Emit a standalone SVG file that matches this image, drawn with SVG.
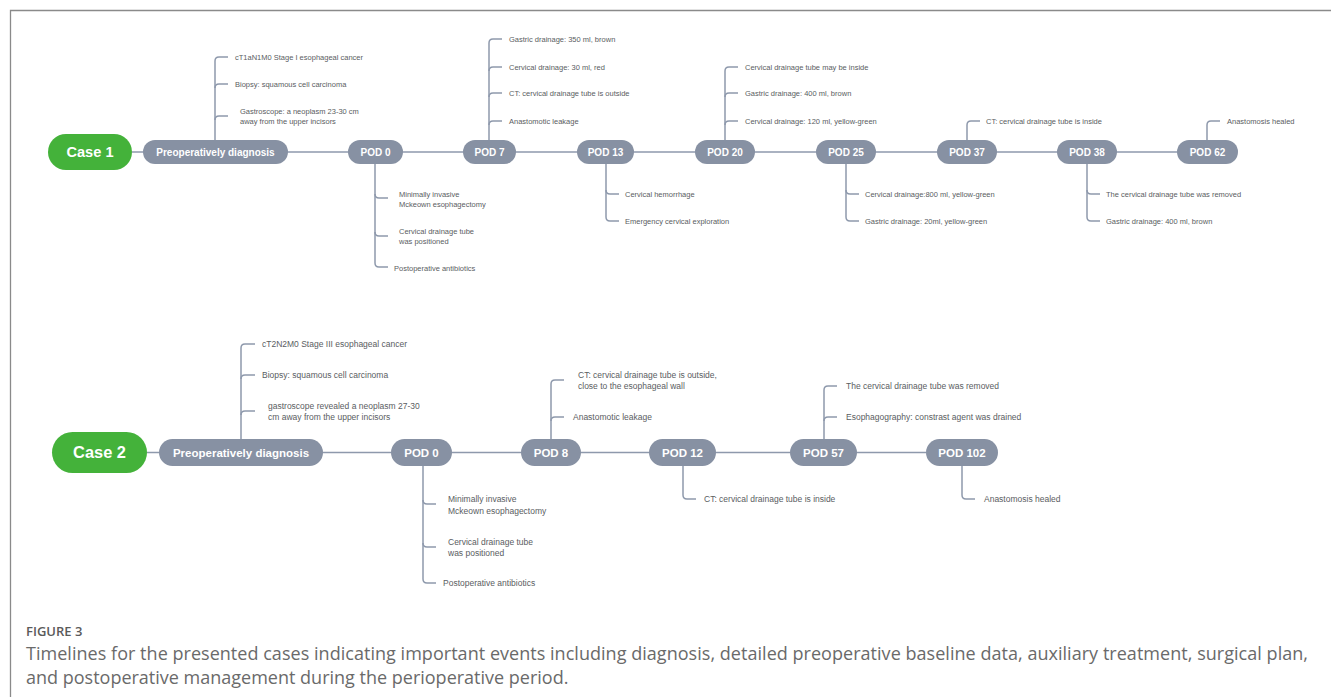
<svg xmlns="http://www.w3.org/2000/svg" width="1331" height="697" viewBox="0 0 1331 697">
<style>
.bg{fill:#ffffff}
.frame{stroke:#8a8a8a;stroke-width:1.3;fill:none}
.case{fill:#44b23a}
.node{fill:#8791a3}
.caseT{font-family:"Liberation Sans",Arial,sans-serif;font-weight:bold;fill:#ffffff;text-anchor:middle}
.nodeT{font-family:"Liberation Sans",Arial,sans-serif;font-weight:bold;fill:#ffffff;text-anchor:middle}
.c1n{font-size:10px}
.c2n{font-size:11.5px}
.ln{stroke:#8e99ac;stroke-width:1.5;fill:none}
.t1{font-family:"Liberation Sans",Arial,sans-serif;font-size:7.5px;fill:#5a5d62}
.t2{font-family:"Liberation Sans",Arial,sans-serif;font-size:8.5px;fill:#5a5d62}
.figl{font-family:"Open Sans","Liberation Sans",sans-serif;font-size:13px;font-weight:600;fill:#5a5a5a}
.cap{font-family:"Open Sans","Liberation Sans",sans-serif;font-size:18px;fill:#6a6a6a}
</style>
<rect class="bg" x="0" y="0" width="1331" height="697"/>
<path class="frame" d="M10.5,697 V10.5 H1331"/>

<g id="connectors">
  <line class="ln" x1="132" y1="152" x2="1177" y2="152"/>
  <path class="ln" d="M215,140 V61 Q215,57 219,57 H228"/>
  <path class="ln" d="M215,88 Q215,84 219,84 H228"/>
  <path class="ln" d="M215,120 Q215,116 219,116 H228"/>
  <path class="ln" d="M375,164 V263 Q375,267 379,267 H388"/>
  <path class="ln" d="M375,194 Q375,198 379,198 H388"/>
  <path class="ln" d="M375,232 Q375,236 379,236 H388"/>
  <path class="ln" d="M489,140 V43 Q489,39 493,39 H502"/>
  <path class="ln" d="M489,71 Q489,67 493,67 H502"/>
  <path class="ln" d="M489,97 Q489,93 493,93 H502"/>
  <path class="ln" d="M489,125 Q489,121 493,121 H502"/>
  <path class="ln" d="M606,164 V217 Q606,221 610,221 H619"/>
  <path class="ln" d="M606,190 Q606,194 610,194 H619"/>
  <path class="ln" d="M725,140 V71 Q725,67 729,67 H738"/>
  <path class="ln" d="M725,97 Q725,93 729,93 H738"/>
  <path class="ln" d="M725,125 Q725,121 729,121 H738"/>
  <path class="ln" d="M846,164 V217 Q846,221 850,221 H859"/>
  <path class="ln" d="M846,190 Q846,194 850,194 H859"/>
  <path class="ln" d="M967,140 V125 Q967,121 971,121 H980"/>
  <path class="ln" d="M1087,164 V217 Q1087,221 1091,221 H1100"/>
  <path class="ln" d="M1087,190 Q1087,194 1091,194 H1100"/>
  <path class="ln" d="M1207,140 V125 Q1207,121 1211,121 H1220"/>

  <line class="ln" x1="147" y1="452.5" x2="926" y2="452.5"/>
  <path class="ln" d="M241,439 V348 Q241,344 245,344 H255"/>
  <path class="ln" d="M241,379 Q241,375 245,375 H255"/>
  <path class="ln" d="M241,415 Q241,411 245,411 H255"/>
  <path class="ln" d="M423,466 V579 Q423,583 427,583 H436"/>
  <path class="ln" d="M423,500 Q423,504 427,504 H436"/>
  <path class="ln" d="M423,543 Q423,547 427,547 H436"/>
  <path class="ln" d="M551,439 V384 Q551,380 555,380 H564"/>
  <path class="ln" d="M551,421 Q551,417 555,417 H564"/>
  <path class="ln" d="M683,466 V495 Q683,499 687,499 H696"/>
  <path class="ln" d="M824,439 V390 Q824,386 828,386 H837"/>
  <path class="ln" d="M824,421 Q824,417 828,417 H837"/>
  <path class="ln" d="M962,466 V495 Q962,499 966,499 H975"/>
</g>

<g id="case1">
  <rect class="case" x="48" y="134" width="84" height="36" rx="18"/>
  <text class="caseT" x="90" y="157.3" font-size="14.6">Case 1</text>
</g>
<g id="c1-preop">
  <rect class="node" x="143" y="140" width="145" height="24" rx="12"/>
  <text class="nodeT c1n" x="215.5" y="155.5">Preoperatively diagnosis</text>
  <text class="t1" x="235" y="59.7">cT1aN1M0 Stage I esophageal cancer</text>
  <text class="t1" x="235" y="86.7">Biopsy: squamous cell carcinoma</text>
  <text class="t1" x="240" y="113.7">Gastroscope: a neoplasm 23-30 cm</text>
  <text class="t1" x="240" y="123.7">away from the upper incisors</text>
</g>
<g id="c1-pod0">
  <rect class="node" x="348" y="140" width="55" height="24" rx="12"/>
  <text class="nodeT c1n" x="375.5" y="155.5">POD 0</text>
  <text class="t1" x="399" y="196.7">Minimally invasive</text>
  <text class="t1" x="399" y="206.7">Mckeown esophagectomy</text>
  <text class="t1" x="399" y="233.7">Cervical drainage tube</text>
  <text class="t1" x="399" y="243.7">was positioned</text>
  <text class="t1" x="394" y="270.7">Postoperative antibiotics</text>
</g>
<g id="c1-pod7">
  <rect class="node" x="463" y="140" width="53" height="24" rx="12"/>
  <text class="nodeT c1n" x="489.5" y="155.5">POD 7</text>
  <text class="t1" x="509" y="41.7">Gastric drainage: 350 ml, brown</text>
  <text class="t1" x="509" y="69.7">Cervical drainage: 30 ml, red</text>
  <text class="t1" x="509" y="95.7">CT: cervical drainage tube is outside</text>
  <text class="t1" x="509" y="123.7">Anastomotic leakage</text>
</g>
<g id="c1-pod13">
  <rect class="node" x="577" y="140" width="57" height="24" rx="12"/>
  <text class="nodeT c1n" x="605.5" y="155.5">POD 13</text>
  <text class="t1" x="625" y="196.7">Cervical hemorrhage</text>
  <text class="t1" x="625" y="223.7">Emergency cervical exploration</text>
</g>
<g id="c1-pod20">
  <rect class="node" x="695" y="140" width="60" height="24" rx="12"/>
  <text class="nodeT c1n" x="725" y="155.5">POD 20</text>
  <text class="t1" x="745" y="69.7">Cervical drainage tube may be inside</text>
  <text class="t1" x="745" y="95.7">Gastric drainage: 400 ml, brown</text>
  <text class="t1" x="745" y="123.7">Cervical drainage: 120 ml, yellow-green</text>
</g>
<g id="c1-pod25">
  <rect class="node" x="816" y="140" width="60" height="24" rx="12"/>
  <text class="nodeT c1n" x="846" y="155.5">POD 25</text>
  <text class="t1" x="865" y="196.7">Cervical drainage:800 ml, yellow-green</text>
  <text class="t1" x="865" y="223.7">Gastric drainage: 20ml, yellow-green</text>
</g>
<g id="c1-pod37">
  <rect class="node" x="937" y="140" width="60" height="24" rx="12"/>
  <text class="nodeT c1n" x="967" y="155.5">POD 37</text>
  <text class="t1" x="986" y="123.7">CT: cervical drainage tube is inside</text>
</g>
<g id="c1-pod38">
  <rect class="node" x="1057" y="140" width="60" height="24" rx="12"/>
  <text class="nodeT c1n" x="1087" y="155.5">POD 38</text>
  <text class="t1" x="1106" y="196.7">The cervical drainage tube was removed</text>
  <text class="t1" x="1106" y="223.7">Gastric drainage: 400 ml, brown</text>
</g>
<g id="c1-pod62">
  <rect class="node" x="1177" y="140" width="61" height="24" rx="12"/>
  <text class="nodeT c1n" x="1207.5" y="155.5">POD 62</text>
  <text class="t1" x="1227" y="123.7">Anastomosis healed</text>
</g>

<g id="case2">
  <rect class="case" x="52" y="432" width="95" height="41" rx="20.5"/>
  <text class="caseT" x="99.5" y="458.4" font-size="16.4">Case 2</text>
</g>
<g id="c2-preop">
  <rect class="node" x="159" y="439" width="164" height="27" rx="13.5"/>
  <text class="nodeT c2n" x="241" y="456.6">Preoperatively diagnosis</text>
  <text class="t2" x="262" y="347">cT2N2M0 Stage III esophageal cancer</text>
  <text class="t2" x="262" y="378">Biopsy: squamous cell carcinoma</text>
  <text class="t2" x="268" y="409">gastroscope revealed a neoplasm 27-30</text>
  <text class="t2" x="268" y="420">cm away from the upper incisors</text>
</g>
<g id="c2-pod0">
  <rect class="node" x="391" y="439" width="61" height="27" rx="13.5"/>
  <text class="nodeT c2n" x="421.5" y="456.6">POD 0</text>
  <text class="t2" x="448" y="502">Minimally invasive</text>
  <text class="t2" x="448" y="514">Mckeown esophagectomy</text>
  <text class="t2" x="448" y="545">Cervical drainage tube</text>
  <text class="t2" x="448" y="556">was positioned</text>
  <text class="t2" x="443" y="586">Postoperative antibiotics</text>
</g>
<g id="c2-pod8">
  <rect class="node" x="521" y="439" width="60" height="27" rx="13.5"/>
  <text class="nodeT c2n" x="551" y="456.6">POD 8</text>
  <text class="t2" x="578" y="378">CT: cervical drainage tube is outside,</text>
  <text class="t2" x="578" y="389">close to the esophageal wall</text>
  <text class="t2" x="573" y="420">Anastomotic leakage</text>
</g>
<g id="c2-pod12">
  <rect class="node" x="649" y="439" width="67" height="27" rx="13.5"/>
  <text class="nodeT c2n" x="682.5" y="456.6">POD 12</text>
  <text class="t2" x="704" y="502">CT: cervical drainage tube is inside</text>
</g>
<g id="c2-pod57">
  <rect class="node" x="790" y="439" width="67" height="27" rx="13.5"/>
  <text class="nodeT c2n" x="823.5" y="456.6">POD 57</text>
  <text class="t2" x="846" y="389">The cervical drainage tube was removed</text>
  <text class="t2" x="846" y="420">Esophagography: constrast agent was drained</text>
</g>
<g id="c2-pod102">
  <rect class="node" x="926" y="439" width="72" height="27" rx="13.5"/>
  <text class="nodeT c2n" x="962" y="456.6">POD 102</text>
  <text class="t2" x="984" y="502">Anastomosis healed</text>
</g>

<text class="figl" x="26" y="636">FIGURE 3</text>
<text class="cap" x="26" y="660" textLength="1282" lengthAdjust="spacing">Timelines for the presented cases indicating important events including diagnosis, detailed preoperative baseline data, auxiliary treatment, surgical plan,</text>
<text class="cap" x="26" y="684">and postoperative management during the perioperative period.</text>
</svg>
